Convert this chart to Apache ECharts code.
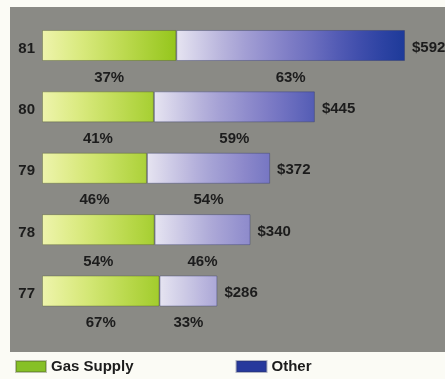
<!DOCTYPE html>
<html>
<head>
<meta charset="utf-8">
<script src="https://cdn.jsdelivr.net/npm/echarts@6/dist/echarts.min.js"></script>
<style>
  html, body { margin: 0; padding: 0; background: #fbfbf5; }
  #chart { width: 445px; height: 379px; }
</style>
</head>
<body>
<div id="chart"></div>
<script>
// Fiscal years, top to bottom
const years = ['81', '80', '79', '78', '77'];
// Total spending in dollars
const totals = [592, 445, 372, 340, 286];
// Share of each total, in percent
const gasShare = [37, 41, 46, 54, 67];
const otherShare = [63, 59, 54, 46, 33];

const gasValues = totals.map((t, i) => t * gasShare[i] / 100);
const otherValues = totals.map((t, i) => t - gasValues[i]);

// Colour ramps: the shade darkens with distance from the segment start,
// at the same rate on every bar, so longer segments reach deeper tones.
const greenRamp = [[0, '#eef4ac'], [0.3, '#d8e97c'], [0.65, '#b8d84a'], [1, '#95c61c']];
const blueRamp = [[0, '#e6e4f1'], [0.25, '#aca8d7'], [0.45, '#8784c9'], [0.56, '#7273c1'],
                  [0.72, '#5059b3'], [0.86, '#3446a7'], [1, '#1d3a99']];

function hexToRgb(h) {
  return [1, 3, 5].map(k => parseInt(h.slice(k, k + 2), 16));
}
function rampAt(ramp, t) {
  for (let i = 1; i < ramp.length; i++) {
    if (t <= ramp[i][0]) {
      const [t0, c0] = ramp[i - 1], [t1, c1] = ramp[i];
      const f = (t - t0) / (t1 - t0);
      const a = hexToRgb(c0), b = hexToRgb(c1);
      return 'rgb(' + a.map((v, k) => Math.round(v + (b[k] - v) * f)).join(',') + ')';
    }
  }
  return ramp[ramp.length - 1][1];
}
function shaded(values, ramp) {
  const maxV = Math.max(...values);
  return values.map(v => {
    const reach = v / maxV;
    const stops = [];
    for (let k = 0; k <= 10; k++) {
      stops.push({ offset: k / 10, color: rampAt(ramp, reach * k / 10) });
    }
    return { value: v, itemStyle: { color: new echarts.graphic.LinearGradient(0, 0, 1, 0, stops) } };
  });
}

const textStyle = { color: '#1c1c1c', fontFamily: '"Liberation Sans", Arial, sans-serif', fontWeight: 'bold', fontSize: 15 };

const chart = echarts.init(document.getElementById('chart'), null, { renderer: 'canvas' });
chart.setOption({
  animation: false,
  backgroundColor: '#fbfbf5',
  graphic: [{
    type: 'rect', z: -10, silent: true,
    shape: { x: 10, y: 7, width: 440, height: 345 },
    style: { fill: '#8a8a85' }
  }],
  legend: {
    left: 10, top: 354,
    itemWidth: 30, itemHeight: 11, itemGap: 102,
    icon: 'rect',
    data: ['Gas Supply', 'Other'],
    textStyle: textStyle
  },
  grid: { left: 42, right: 22.8, top: 14.8, bottom: 379 - 321.7 },
  xAxis: { type: 'value', min: 0, max: 620, show: false },
  yAxis: {
    type: 'category', data: years, inverse: true,
    axisLine: { show: false }, axisTick: { show: false },
    axisLabel: {
      margin: 7,
      formatter: '{y|{value}}',
      rich: { y: Object.assign({ padding: [6, 0, 0, 0] }, textStyle) }
    }
  },
  series: [
    {
      name: 'Gas Supply', type: 'bar', stack: 'total', barWidth: 31, barGap: '-100%',
      itemStyle: { color: '#86c026', borderColor: 'rgba(70,80,40,0.35)', borderWidth: 1 },
      data: shaded(gasValues, greenRamp),
      label: Object.assign({ show: true, position: 'bottom', distance: 9,
        formatter: p => gasShare[p.dataIndex] + '%' }, textStyle)
    },
    {
      name: 'Other', type: 'bar', stack: 'total', barWidth: 31, barGap: '-100%',
      itemStyle: { color: '#27399c', borderColor: 'rgba(40,50,100,0.35)', borderWidth: 1 },
      data: shaded(otherValues, blueRamp),
      label: Object.assign({ show: true, position: 'bottom', distance: 9,
        formatter: p => otherShare[p.dataIndex] + '%' }, textStyle)
    },
    {
      name: 'Total', type: 'bar', barWidth: 31, barGap: '-100%', silent: true,
      itemStyle: { color: 'rgba(0,0,0,0)' },
      data: totals,
      label: Object.assign({ show: true, position: 'right', distance: 7, offset: [0, 2],
        formatter: p => '$' + p.value }, textStyle)
    }
  ]
});
</script>
</body>
</html>
